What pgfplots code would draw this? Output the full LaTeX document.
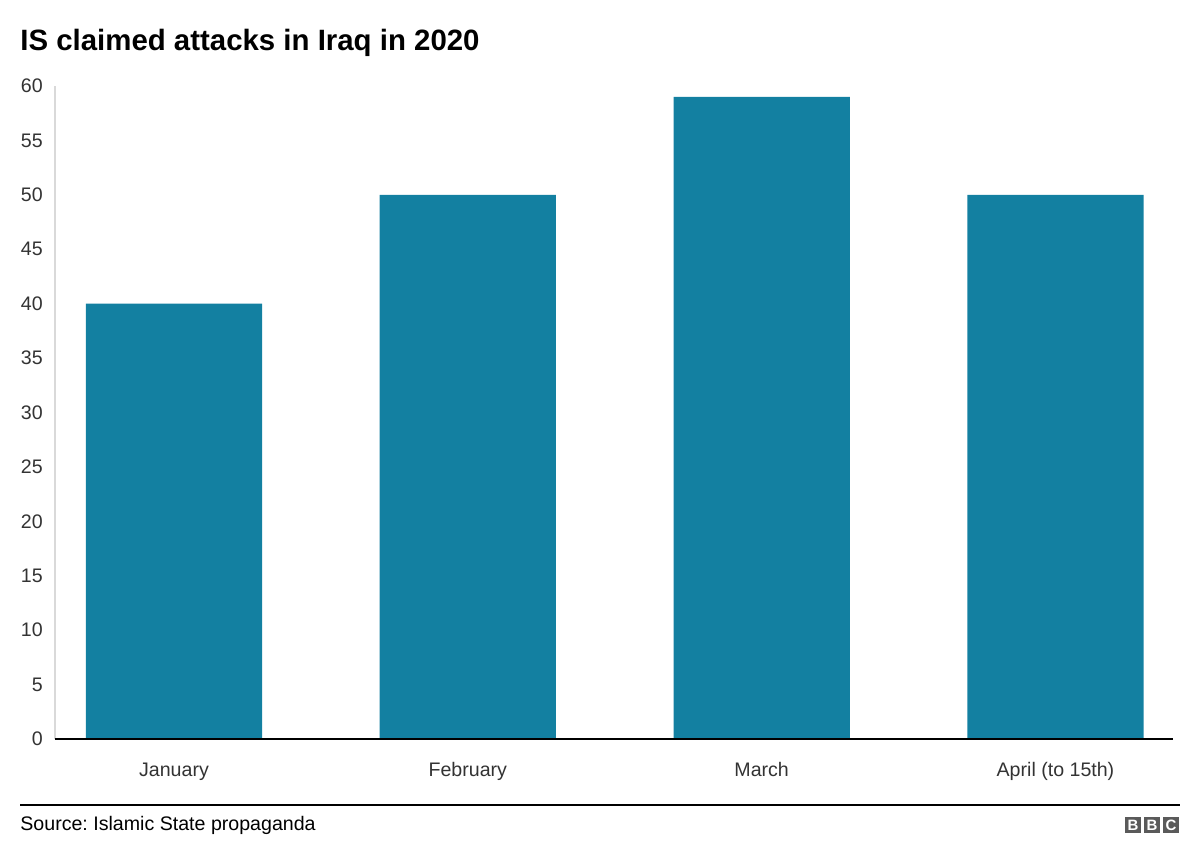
\documentclass[border=0pt]{standalone}
\usepackage{pgfplots}
\pgfplotsset{compat=1.18}
\usepackage{fontspec}
\setmainfont{Liberation Sans}
\frenchspacing
\definecolor{bbcteal}{HTML}{1380A1}
\definecolor{axgray}{HTML}{D9D9D9}
\definecolor{txtgray}{HTML}{333333}
\definecolor{logogray}{HTML}{5A5A5A}
\begin{document}
\begin{tikzpicture}
\path[use as bounding box] (0,0) rectangle (600pt,429.5pt);
\begin{axis}[
  at={(27.5pt,60pt)}, anchor=south west,
  scale only axis, width=559pt, height=326.5pt,
  xmin=-0.405, xmax=3.40, ymin=0, ymax=60,
  axis lines=left,
  axis line style={draw=none,-},
  xtick=data, xticklabels={January,February,March,April (to 15th)},
  ytick={0,5,...,60},
  tick style={draw=none},
  /pgf/number format/assume math mode=true,
  every tick label/.append style={font=\fontsize{9.8}{11}\selectfont, text=txtgray},
  yticklabel style={xshift=-0.5pt},
  xticklabel style={yshift=-4pt},
  ybar, bar width=0.6,
  clip=false,
]
\draw[axgray, line width=0.9pt] (axis cs:-0.405,0) -- (axis cs:-0.405,60);
\addplot[fill=bbcteal, draw=none] coordinates {(0,40) (1,50) (2,59) (3,50)};
\draw[black, line width=1pt] (axis cs:-0.405,0) -- (axis cs:3.40,0);
\end{axis}
\node[anchor=base west, inner sep=0pt, font=\bfseries\fontsize{14.7}{16}\selectfont] at (10pt,404pt) {IS claimed attacks in Iraq in 2020};
\draw[black, line width=0.7pt] (10pt,27pt) -- (590pt,27pt);
\node[anchor=base west, inner sep=0pt, font=\fontsize{9.8}{11}\selectfont] at (10pt,14.5pt) {Source: Islamic State propaganda};
\foreach \x/\l in {562.5/B,572/B,581.5/C}{
  \fill[logogray] (\x pt,13pt) rectangle ++(8pt,8pt);
  \node[text=white, font=\bfseries\fontsize{7.5}{8}\selectfont, inner sep=0pt] at (\x pt+4pt,17pt) {\l};
}
\end{tikzpicture}
\end{document}
